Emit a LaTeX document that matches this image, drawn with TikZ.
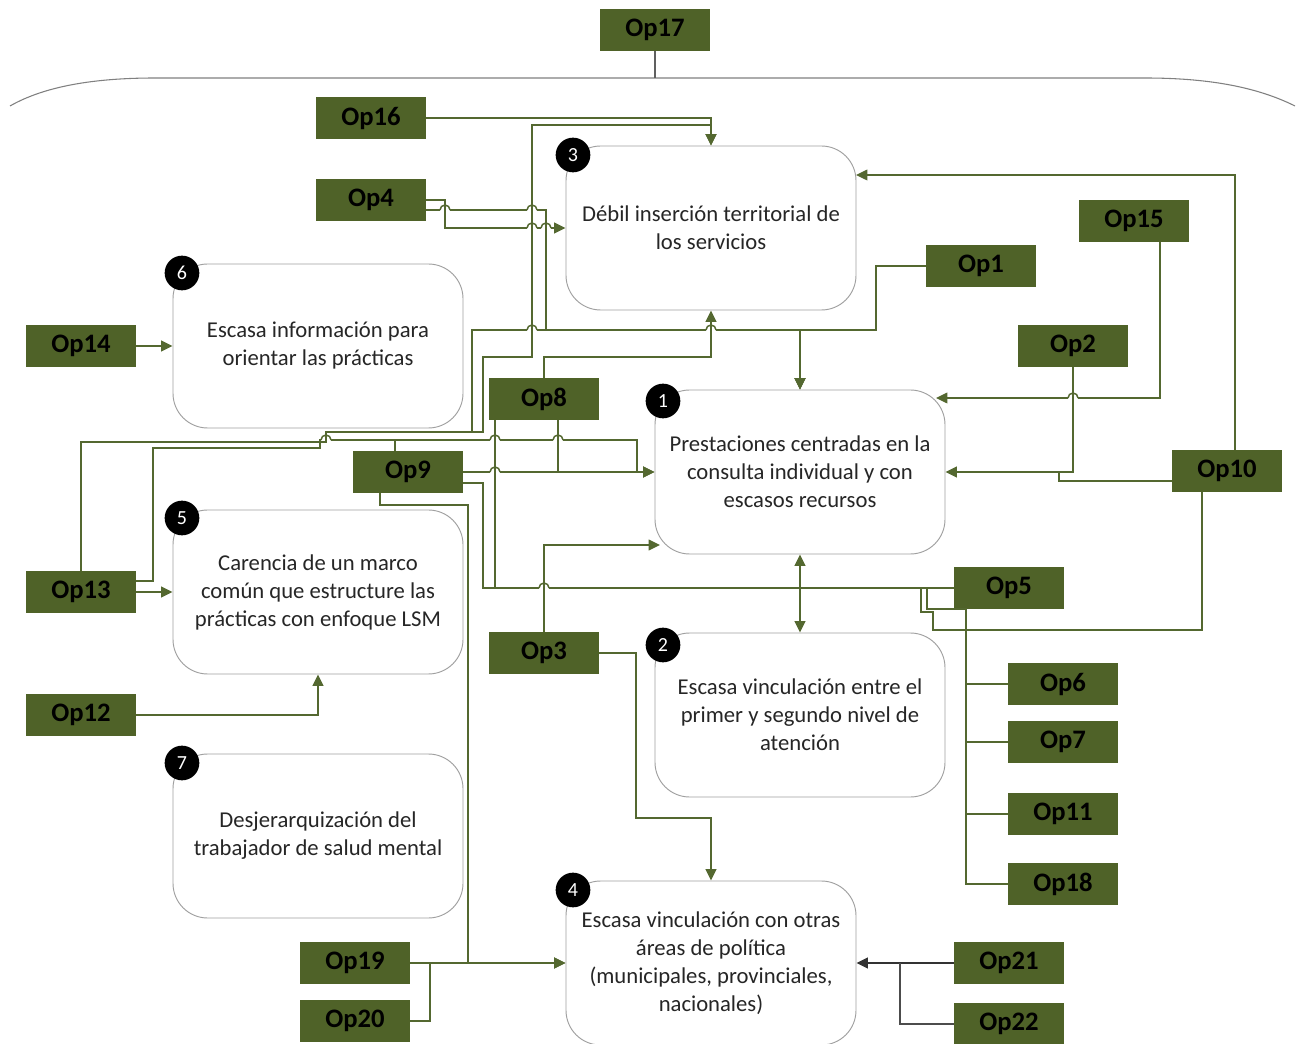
\documentclass[tikz,border=0pt]{standalone}
\usepackage{fontspec}
\setmainfont{Carlito}
\usetikzlibrary{arrows.meta}
\definecolor{opgreen}{RGB}{79,98,40}
\definecolor{linkgreen}{RGB}{84,104,48}
\definecolor{boxgrey}{RGB}{160,160,160}
\tikzset{
  opbox/.style={draw=none, fill=opgreen, minimum width=82.5pt, minimum height=31.5pt,
    inner sep=0pt, font=\bfseries\fontsize{20}{24}\selectfont, text=black},
  probbox/.style={draw=boxgrey, line width=0.7pt, fill=white, rounded corners=26pt,
    minimum width=217.5pt, minimum height=123pt, inner sep=0pt, align=center,
    font=\fontsize{17}{21}\selectfont, text=black!85},
  numdot/.style={circle, fill=black, minimum size=26pt, inner sep=0pt,
    font=\fontsize{15}{15}\selectfont, text=white},
  link/.style={draw=linkgreen, line width=1.1pt},
  arr/.style={link, -{Triangle[length=8.5pt,width=8pt]}},
  % leave a gap in a straight run where it jumps over a crossing line
  hopR/.style args={#1/#2}{insert path={-- ({#1-5},#2) ++(10,0)}},
  hopL/.style args={#1/#2}{insert path={-- ({#1+5},#2) ++(-10,0)}},
}
% the little jump arc drawn over a crossing
\newcommand\jumparc[2]{\draw[link] ({#1-5},#2) arc[start angle=180,end angle=360,radius=5];}
\begin{document}
\begin{tikzpicture}[x=0.75pt,y=-0.75pt]
\useasboundingbox (0,0) rectangle (1300,1044);
\fill[white] (0,0) rectangle (1300,1044);

% overall bracket under Op17
\draw[boxgrey!80!black, line width=0.8pt] (10,106) .. controls (45,86) and (95,78) .. (155,78)
  -- (1145,78) .. controls (1205,78) and (1255,86) .. (1295,106);

% problem boxes
\node[probbox] (b3) at (711,228) {Débil inserción territorial de\\los servicios};
\node[probbox] (b6) at (318,346) {Escasa información para\\orientar las prácticas};
\node[probbox] (b1) at (800,472) {Prestaciones centradas en la\\consulta individual y con\\escasos recursos};
\node[probbox] (b5) at (318,592) {Carencia de un marco\\común que estructure las\\prácticas con enfoque LSM};
\node[probbox] (b2) at (800,715) {Escasa vinculación entre el\\primer y segundo nivel de\\atención};
\node[probbox] (b7) at (318,836) {Desjerarquización del\\trabajador de salud mental};
\node[probbox] (b4) at (711,963) {Escasa vinculación con otras\\áreas de política\\(municipales, provinciales,\\nacionales)};

\node[numdot] (n3) at (573,155) {3};
\node[numdot] (n6) at (182,273) {6};
\node[numdot] (n1) at (663,401) {1};
\node[numdot] (n5) at (182,518) {5};
\node[numdot] (n2) at (663,645) {2};
\node[numdot] (n7) at (182,763) {7};
\node[numdot] (n4) at (573,890) {4};

% option boxes
\node[opbox] (op17) at (655,30) {Op17};
\node[opbox] (op16) at (371,118) {Op16};
\node[opbox] (op4)  at (371,200) {Op4};
\node[opbox] (op14) at (81,346) {Op14};
\node[opbox] (op1)  at (981,266) {Op1};
\node[opbox] (op15) at (1134,221) {Op15};
\node[opbox] (op2)  at (1073,346) {Op2};
\node[opbox] (op8)  at (544,399) {Op8};
\node[opbox] (op9)  at (408,472) {Op9};
\node[opbox] (op10) at (1227,471) {Op10};
\node[opbox] (op13) at (81,592) {Op13};
\node[opbox] (op5)  at (1009,588) {Op5};
\node[opbox] (op3)  at (544,653) {Op3};
\node[opbox] (op12) at (81,715) {Op12};
\node[opbox] (op6)  at (1063,684) {Op6};
\node[opbox] (op7)  at (1063,742) {Op7};
\node[opbox] (op11) at (1063,814) {Op11};
\node[opbox] (op18) at (1063,884) {Op18};
\node[opbox] (op19) at (355,963) {Op19};
\node[opbox] (op20) at (355,1021) {Op20};
\node[opbox] (op21) at (1009,963) {Op21};
\node[opbox] (op22) at (1009,1024) {Op22};

\coordinate (jA) at (472,432);

% Op17
\draw[boxgrey!60!black, line width=0.8pt] (op17.south) -- (655,78);

% connectors into box 3
\draw[arr] (op16.east) -| (b3.north);
\draw[arr] (op4.east) -- (445,200) -- (445,228) [hopR=532/228] [hopR=546/228] -- (b3.west);
\draw[arr] (op8.north) -- (544,357) -- (711,357) -- (b3.south);
\draw[arr] (jA) -- (483,432) -- (483,357) -- (532,357) -- (532,125) -- (711,125) -- (b3.north);
\draw[arr] ([xshift=6pt]op10.north) -- (1235,175) -- (856,175);

% connectors into box 1
\draw[arr] ([yshift=-7.5pt]op4.east) [hopR=445/210] [hopR=532/210] -- (546,210) -- (546,330)
  [hopR=711/330] -- (800,330) -- (b1.north);
\draw[arr] (op13.north) -- (81,442) -- (326,442) -- (326,432) -- (jA) -- (472,330)
  [hopR=532/330] [hopR=711/330] -- (800,330) -- (b1.north);
\draw[arr] (op1.west) -- (876,266) -- (876,330) -- (800,330) -- (b1.north);
\draw[arr] ([yshift=8.25pt]op13.east) -- (153,581) -- (153,448) -- (320,448) -- (320,440)
  [hopR=326/440] [hopR=495/440] [hopR=558/440] -- (637,440) -- (637,472) -- (b1.west);
\draw[link] ([xshift=-9.75pt]op9.north) -- (395,440);
\draw[arr] (op9.east) [hopR=495/472] -- (b1.west);
\draw[link] ([xshift=10.5pt]op8.south) -- (558,472);
\draw[arr] (op3.north) -- (544,545) -- (660,545);
\draw[arr] ([xshift=19.5pt]op15.south) -- (1160,398) [hopL=1073/398] -- (936,398);
\draw[arr] (op2.south) -- (1073,472) -- (b1.east);
\draw[link] ([yshift=-7.5pt]op10.west) -- (1059,481) -- (1059,472);

% box 1 <-> box 2
\draw[link, {Triangle[length=8.5pt,width=8pt]}-{Triangle[length=8.5pt,width=8pt]}] (b1.south) -- (b2.north);

% links among options
\draw[link] ([xshift=-36.75pt]op8.south) -- (495,588);
\draw[link] ([yshift=-8.25pt]op9.east) -- (483,483) -- (483,588) [hopR=544/588] -- (op5.west);
\draw[link] ([xshift=-18.75pt]op10.south) -- (1202,630) -- (933,630) -- (933,612) -- (921,612) -- (921,588);
\draw[link] (927,588) -- (927,609) -- (966,609) -- (966,884) -- (op18.west);
\draw[link] (966,684) -- (op6.west);
\draw[link] (966,742) -- (op7.west);
\draw[link] (966,814) -- (op11.west);

% connectors into boxes 5 and 6
\draw[arr] (op14.east) -- (b6.west);
\draw[arr] (op13.east) -- (b5.west);
\draw[arr] (op12.east) -| (b5.south);

% connectors into box 4
\draw[arr] ([xshift=-21pt]op9.south) -- (380,505) -- (468,505) -- (468,963) -- (b4.west);
\draw[arr] (op19.east) -- (b4.west);
\draw[link] (op20.east) -- (430,1021) -- (430,963);
\draw[arr] (op3.east) -- (636,653) -- (636,818) -- (711,818) -- (b4.north);
\draw[line width=1.1pt, black!80, -{Triangle[length=8.5pt,width=8pt]}] (op21.west) -- (b4.east);
\draw[line width=1.1pt, black!70] (op22.west) -- (900,1024) -- (900,963);

% jumps over crossings
\jumparc{532}{228} \jumparc{546}{228}
\jumparc{445}{210} \jumparc{532}{210}
\jumparc{532}{330} \jumparc{711}{330}
\jumparc{326}{440} \jumparc{495}{440} \jumparc{558}{440}
\jumparc{495}{472} \jumparc{544}{588} \jumparc{1073}{398}
\end{tikzpicture}
\end{document}
